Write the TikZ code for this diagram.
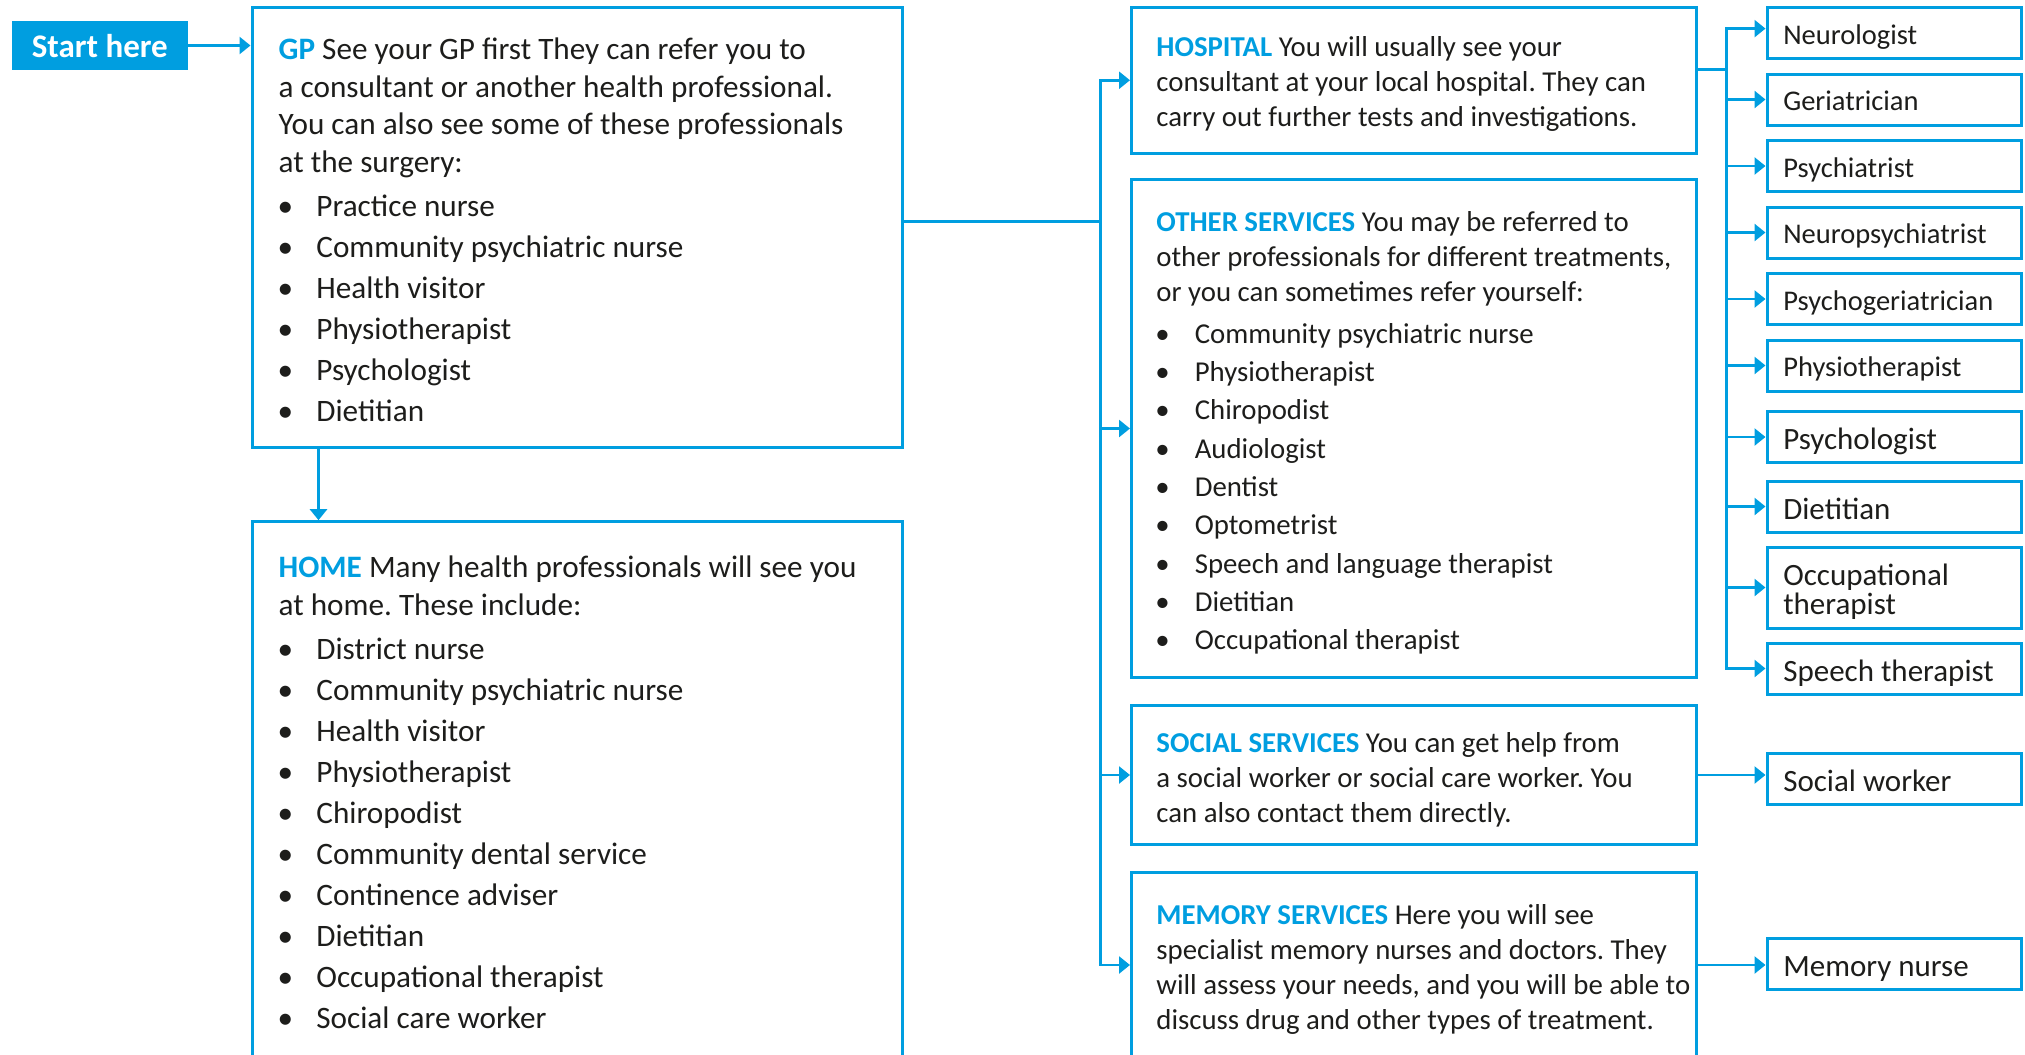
\documentclass[tikz,border=0pt]{standalone}
\usepackage{fontspec}
\setmainfont{Carlito}
\usetikzlibrary{arrows.meta}
\definecolor{blu}{RGB}{0,158,224}
\definecolor{ink}{RGB}{29,29,27}
\frenchspacing
\newcommand\hd[1]{{\bfseries\color{blu}#1}}
\newcommand\bl{\makebox[18.85pt][l]{\hspace{-0.5pt}\textbullet}}
\newcommand\br{\makebox[19.2pt][l]{\hspace{-0.5pt}\textbullet}}

\begin{document}
\begin{tikzpicture}[x=0.5pt,y=-0.5pt,
  box/.style={draw=blu, line width=1.5pt, inner sep=0pt, rectangle},
  link/.style={draw=blu, line width=1.3pt, line cap=rect},
  arr/.style={link, -{Triangle[length=5.5pt,width=8.5pt]}},
  body/.style={anchor=base west, inner sep=0pt, text width=320pt, align=flush left, text=ink,
    font=\fontsize{15.6}{18.8}\selectfont},
  bodyr/.style={body, text width=280pt, font=\fontsize{14.4}{17.5}\selectfont},
  lbl/.style={box, minimum height=25.5pt, text width=110.95pt, inner xsep=8.15pt,
    inner ysep=0pt, align=flush left, text=ink},
  lbls/.style={lbl, font=\fontsize{14.25}{16}\selectfont, text height=11pt, text depth=0pt},
  lblb/.style={lbl, font=\fontsize{15.5}{17}\selectfont, text height=12.5pt, text depth=0pt},
  bigbox/.style={box, minimum width=325pt},
  midbox/.style={box, minimum width=282.25pt},
]
\useasboundingbox (0,0) rectangle (2025,1055);

% start marker
\node[fill=blu, inner sep=0pt, minimum width=88.15pt, minimum height=24.8pt,
  text=white, font=\bfseries\fontsize{16.5}{18}\selectfont,
  text height=12pt, text depth=0pt] (start) at (99.85,45.5) {Start here};

% left column
\node[bigbox, minimum height=220pt] (gp) at (577,227) {};
\node[bigbox, minimum height=276.65pt] (home) at (577,798.35) {};

\node[body] (gptx) at (278.3,59.5) {\hd{GP} See your GP first They can refer you to\\
a consultant or another health professional.\\
You can also see some of these professionals\\
at the surgery:\\[3.35pt]
\bl Practice nurse\\[1.7pt]
\bl Community psychiatric nurse\\[1.7pt]
\bl Health visitor\\[1.7pt]
\bl Physiotherapist\\[1.7pt]
\bl Psychologist\\[1.7pt]
\bl Dietitian};

\node[body] (hometx) at (278.3,577.5) {\hd{HOME} Many health professionals will see you\\
at home. These include:\\[3.2pt]
\bl District nurse\\[1.7pt]
\bl Community psychiatric nurse\\[1.7pt]
\bl Health visitor\\[1.7pt]
\bl Physiotherapist\\[1.7pt]
\bl Chiropodist\\[1.7pt]
\bl Community dental service\\[1.7pt]
\bl Continence adviser\\[1.7pt]
\bl Dietitian\\[1.7pt]
\bl Occupational therapist\\[1.7pt]
\bl Social care worker};

% middle column
\node[midbox, minimum height=72.75pt] (hosp) at (1413.75,80.25) {};
\node[midbox, minimum height=249pt] (other) at (1413.75,428.5) {};
\node[midbox, minimum height=69.5pt] (social) at (1413.75,775) {};
\node[midbox, minimum height=93pt] (mem) at (1413.75,965) {};

\node[bodyr] (hosptx) at (1156,56.7) {\hd{HOSPITAL} You will usually see your\\
consultant at your local hospital. They can\\
carry out further tests and investigations.};

\node[bodyr] (othertx) at (1156,231) {\hd{OTHER SERVICES} You may be referred to\\
other professionals for different treatments,\\
or you can sometimes refer yourself:\\[3.65pt]
\br Community psychiatric nurse\\[1.65pt]
\br Physiotherapist\\[1.65pt]
\br Chiropodist\\[1.65pt]
\br Audiologist\\[1.65pt]
\br Dentist\\[1.65pt]
\br Optometrist\\[1.65pt]
\br Speech and language therapist\\[1.65pt]
\br Dietitian\\[1.65pt]
\br Occupational therapist};

\node[bodyr] (socialtx) at (1156,752.9) {\hd{SOCIAL SERVICES} You can get help from\\
a social worker or social care worker. You\\
can also contact them directly.};

\node[bodyr] (memtx) at (1156,924.5) {\hd{MEMORY SERVICES} Here you will see\\
specialist memory nurses and doctors. They\\
will assess your needs, and you will be able to\\
discuss drug and other types of treatment.};

% right column
\node[lbls] (neuro) at (1894.25,33) {Neurologist};
\node[lbls] (geri) at (1894.25,99.5) {Geriatrician};
\node[lbls] (psychia) at (1894.25,166) {Psychiatrist};
\node[lbls] (neuropsy) at (1894.25,232.5) {Neuropsychiatrist};
\node[lbls] (psyger) at (1894.25,299) {Psychogeriatrician};
\node[lbls] (physio) at (1894.25,365.5) {Physiotherapist};
\node[lblb] (psychol) at (1894.25,437) {Psychologist};
\node[lblb] (diet) at (1894.25,506.5) {Dietitian};
\node[lbl, minimum height=40.5pt, font=\fontsize{15.5}{13}\selectfont,
  text height=12.5pt, text depth=14.3pt] (occ) at (1894.25,587.5) {Occupational\\therapist};
\node[lblb] (speech) at (1894.25,668.5) {Speech therapist};
\node[lblb] (sw) at (1894.25,779) {Social worker};
\node[lblb] (mn) at (1894.25,963.5) {Memory nurse};

% connectors
\draw[arr] (start.east) -- (gp.west |- start.east);
\coordinate (dn) at (318.5,0);
\draw[arr] (gp.south -| dn) -- (home.north -| dn);

\coordinate (tk) at (1100.5,221.7);
\draw[link] (gp.east |- tk) -- (tk);
\draw[link] (tk |- hosp.west) -- (tk |- mem.west);
\foreach \n in {hosp,other,social,mem}
  \draw[arr] (tk |- \n.west) -- (\n.west);

\coordinate (bx) at (1726.7,69.3);
\coordinate (nt) at ([yshift=2.2pt]neuro.west);
\draw[link] (hosp.east |- bx) -- (bx);
\draw[link] (bx |- nt) -- (bx |- speech.west);
\draw[arr] (bx |- nt) -- (nt);
\foreach \n in {geri,psychia,neuropsy,psyger,physio,psychol,diet,occ,speech}
  \draw[arr] (bx |- \n.west) -- (\n.west);

\draw[arr] (social.east) -- (social.east -| sw.west);
\draw[arr] (mem.east) -- (mem.east -| mn.west);
\end{tikzpicture}
\end{document}
